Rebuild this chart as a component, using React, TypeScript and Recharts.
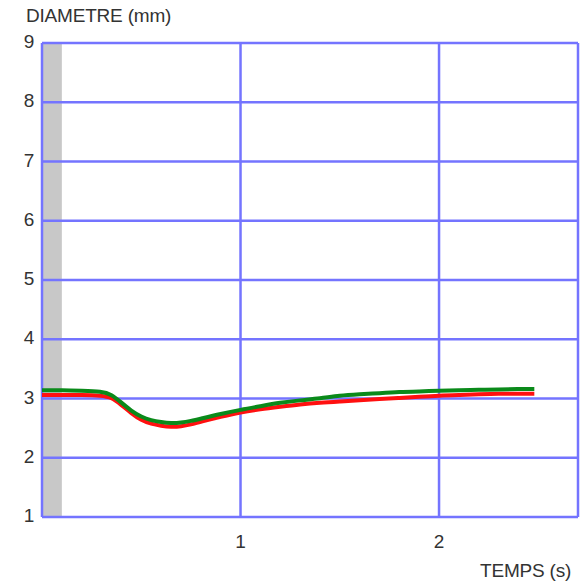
import React from "react";
import { LineChart, Line, XAxis, YAxis, ReferenceArea, ReferenceLine } from "recharts";

const time = [0, 0.1, 0.2, 0.3, 0.35, 0.4, 0.45, 0.5, 0.55, 0.6, 0.65, 0.7, 0.75, 0.8, 0.9, 1.0, 1.1, 1.2, 1.3, 1.4, 1.5, 1.6, 1.7, 1.8, 1.9, 2.0, 2.1, 2.2, 2.3, 2.4, 2.48];
const green = [3.14, 3.14, 3.13, 3.12, 3.07, 2.93, 2.79, 2.69, 2.63, 2.6, 2.58, 2.59, 2.62, 2.66, 2.74, 2.81, 2.87, 2.93, 2.97, 3.0, 3.05, 3.07, 3.09, 3.11, 3.12, 3.13, 3.14, 3.15, 3.15, 3.16, 3.16];
const red = [3.06, 3.06, 3.06, 3.05, 3.02, 2.89, 2.75, 2.63, 2.57, 2.54, 2.52, 2.53, 2.56, 2.61, 2.69, 2.77, 2.82, 2.86, 2.9, 2.93, 2.95, 2.97, 2.99, 3.01, 3.03, 3.05, 3.06, 3.07, 3.08, 3.08, 3.08];

const xTicks = [0, 1, 2, 2.7];
const xLabels = [1, 2];
const yTicks = [1, 2, 3, 4, 5, 6, 7, 8, 9];
const shadeRange = [0, 0.1];

const data = time.map((t, i) => ({ t, green: green[i], red: red[i] }));

const FONT = "'Liberation Sans', Arial, sans-serif";
const GRID = "#7474ff";
const TEXT = "#333333";

const XTick = (props: any) => {
  const { x, y, payload } = props;
  if (!xLabels.includes(payload.value)) return null;
  return (
    <text x={x} y={y + 18} textAnchor="middle" dominantBaseline="middle" fontFamily={FONT} fontSize={19} fill={TEXT}>
      {payload.value}
    </text>
  );
};

const YTick = (props: any) => {
  const { y, payload } = props;
  return (
    <text x={29} y={y} textAnchor="middle" dominantBaseline="middle" fontFamily={FONT} fontSize={19} fill={TEXT}>
      {payload.value}
    </text>
  );
};

export default function App() {
  return (
    <div style={{ position: "absolute", left: 0, top: 0, width: 583, height: 585, background: "#fff" }}>
      <div style={{ position: "absolute", left: 26, top: 5, fontFamily: FONT, fontSize: 19, color: TEXT, letterSpacing: -0.2, whiteSpace: "nowrap" }}>
        DIAMETRE (mm)
      </div>
      <div style={{ position: "absolute", left: 480, top: 560, fontFamily: FONT, fontSize: 19, color: TEXT, letterSpacing: -0.2, whiteSpace: "nowrap" }}>
        TEMPS (s)
      </div>
      <LineChart width={583} height={585} data={data} margin={{ top: 43, right: 5, bottom: 28, left: 0 }}>
        <XAxis dataKey="t" type="number" domain={[0, 2.7]} ticks={xTicks} axisLine={false} tickLine={false} tick={<XTick />} height={40} interval={0} />
        <YAxis type="number" domain={[1, 9]} ticks={yTicks} axisLine={false} tickLine={false} tick={<YTick />} width={42} interval={0} />
        <ReferenceArea x1={shadeRange[0]} x2={shadeRange[1]} y1={1} y2={9} fill="#c8c8c8" fillOpacity={1} stroke="none" ifOverflow="hidden" />
        {yTicks.map((v) => (
          <ReferenceLine key={"y" + v} y={v} stroke={GRID} strokeWidth={2.5} />
        ))}
        {xTicks.map((v) => (
          <ReferenceLine key={"x" + v} x={v} stroke={GRID} strokeWidth={2.5} />
        ))}
        <Line type="basis" dataKey="red" stroke="#ff1010" strokeWidth={4} dot={false} isAnimationActive={false} />
        <Line type="basis" dataKey="green" stroke="#0a8a1a" strokeWidth={4} dot={false} isAnimationActive={false} />
      </LineChart>
    </div>
  );
}
